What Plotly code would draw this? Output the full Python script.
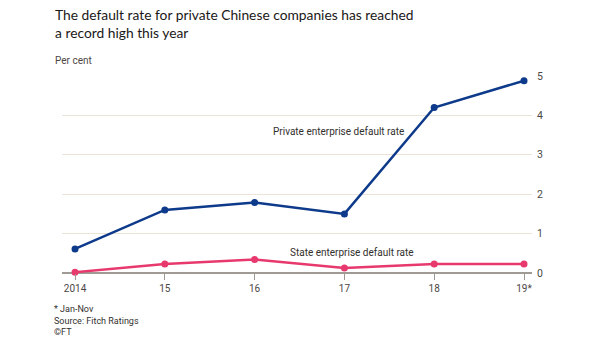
import plotly.graph_objects as go

years = [2014, 2015, 2016, 2017, 2018, 2019]
year_labels = ["2014", "15", "16", "17", "18", "19*"]
private_rate = [0.61, 1.6, 1.79, 1.5, 4.2, 4.88]
state_rate = [0.02, 0.23, 0.34, 0.13, 0.23, 0.23]
y_ticks = [0, 1, 2, 3, 4, 5]

TITLE_FONT = "Lato"
TEXT_FONT = "Roboto"
fig = go.Figure()
fig.add_trace(go.Scatter(x=years, y=private_rate, mode="lines+markers",
                         line=dict(color="#0d3a8a", width=2.5),
                         marker=dict(size=7, color="#0d3a8a"), cliponaxis=False))
fig.add_trace(go.Scatter(x=years, y=state_rate, mode="lines+markers",
                         line=dict(color="#e8396f", width=2.5),
                         marker=dict(size=7, color="#e8396f"), cliponaxis=False))

fig.update_layout(
    width=605, height=341,
    margin=dict(l=62, r=73, t=76, b=68),
    paper_bgcolor="white", plot_bgcolor="white",
    showlegend=False,
    font=dict(family=TEXT_FONT, color="#33302e"),
    xaxis=dict(range=[2013.855, 2019.089], tickvals=years, ticktext=year_labels,
               showgrid=False, zeroline=False, showline=False,
               ticks="outside", ticklen=6, tickcolor="#a09a95", tickwidth=1,
               tickfont=dict(size=10, color="#4d4845")),
    yaxis=dict(range=[0, 5], side="right", tickvals=y_ticks,
               showgrid=True, gridcolor="#ece3d8", gridwidth=1,
               zeroline=True, zerolinecolor="#a09a95", zerolinewidth=1.5,
               showline=False, ticks="", ticklabelstandoff=4,
               tickfont=dict(size=10.5, color="#4d4845")),
)

fig.add_annotation(text="The default rate for private Chinese companies has reached<br>a record high this year",
                   xref="paper", yref="paper", x=-0.009, y=1.0, xanchor="left", yanchor="bottom",
                   xshift=-5, yshift=33, align="left", showarrow=False,
                   font=dict(size=13.8, color="#1a1817", family=TITLE_FONT))
fig.add_annotation(text="Per cent", xref="paper", yref="paper", x=-0.009, y=1.0,
                   xanchor="left", yanchor="bottom", xshift=-5, yshift=8, showarrow=False,
                   font=dict(size=10, color="#4d4845"))
fig.add_annotation(text="Private enterprise default rate", x=2016.93, y=3.6,
                   showarrow=False, font=dict(size=10, color="#33302e"))
fig.add_annotation(text="State enterprise default rate", x=2017.08, y=0.51,
                   showarrow=False, font=dict(size=10, color="#33302e"))
fig.add_annotation(text="* Jan-Nov<br>Source: Fitch Ratings<br>©FT",
                   xref="paper", yref="paper", x=-0.009, y=0, xanchor="left", yanchor="top",
                   xshift=-6, yshift=-29, align="left", showarrow=False,
                   font=dict(size=9, color="#33302e"))

fig.write_html("out.html")
